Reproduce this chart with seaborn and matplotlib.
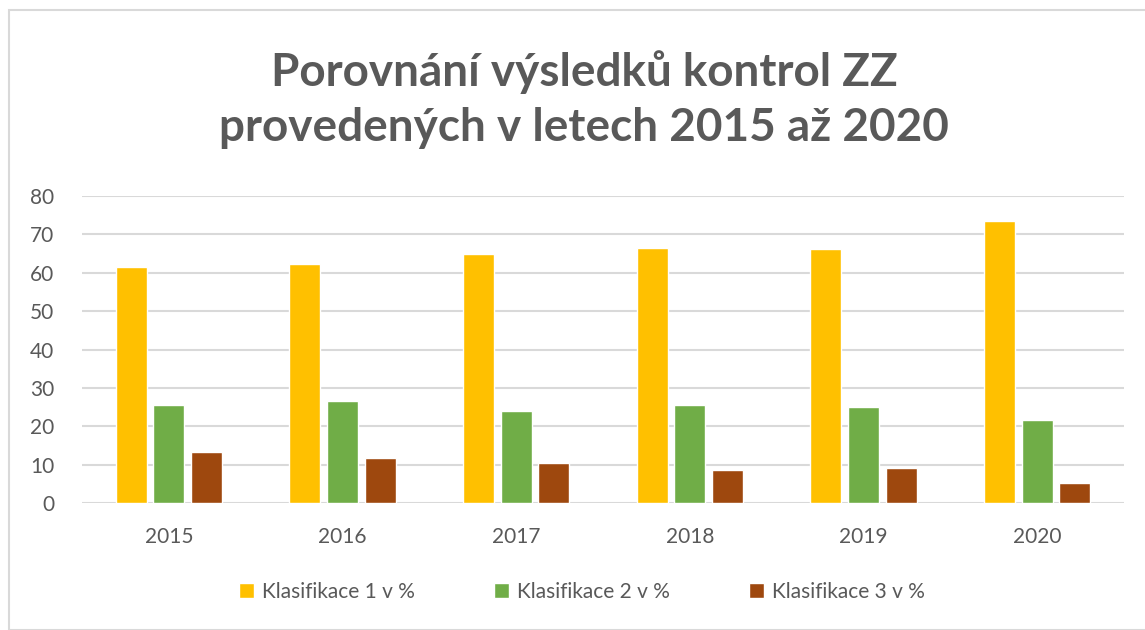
import pandas as pd
import matplotlib.pyplot as plt
import seaborn as sns
from matplotlib.patches import Rectangle

# data
roky = ["2015", "2016", "2017", "2018", "2019", "2020"]
klas1 = [61.6, 62.3, 64.9, 66.4, 66.1, 73.6]
klas2 = [25.5, 26.6, 24.1, 25.5, 25.1, 21.6]
klas3 = [13.2, 11.8, 10.3, 8.5, 9.2, 5.3]
serie = ["Klasifikace 1 v %", "Klasifikace 2 v %", "Klasifikace 3 v %"]
barvy = ["#FFC000", "#70AD47", "#9E480E"]

df = pd.DataFrame({"Rok": roky, serie[0]: klas1, serie[1]: klas2, serie[2]: klas3})
df = df.melt(id_vars="Rok", var_name="Serie", value_name="Hodnota")

sns.set_style("white")
plt.rcParams["font.family"] = ["Lato", "DejaVu Sans"]
text_col = "#595959"

fig = plt.figure(figsize=(11.45, 6.3), dpi=100)
ax = fig.add_axes([82 / 1145, 1 - 503 / 630, (1124 - 82) / 1145, (503 - 196) / 630])

sns.barplot(data=df, x="Rok", y="Hodnota", hue="Serie", palette=barvy,
            width=0.65, gap=0.18, ax=ax, legend=True, saturation=1)

ax.set_ylim(0, 80)
ax.set_yticks(range(0, 81, 10))
ax.yaxis.grid(True, color="#D9D9D9", linewidth=1.5)
ax.set_axisbelow(True)
for s in ax.spines.values():
    s.set_visible(False)
ax.set_xlabel("")
ax.set_ylabel("")
ax.tick_params(axis="both", length=0, labelsize=15, labelcolor=text_col)
ax.tick_params(axis="x", pad=17)
ax.tick_params(axis="y", pad=20)

ax.legend(loc="center", bbox_to_anchor=(0.48, -0.29), ncol=3, frameon=False,
          fontsize=15, labelcolor=text_col, handlelength=0.7, handleheight=0.7,
          columnspacing=3.8, handletextpad=0.4)

fig.text(0.51, 1 - 100 / 630, "Porovnání výsledků kontrol ZZ\nprovedených v letech 2015 až 2020",
         ha="center", va="center", fontsize=33, fontweight="bold", color=text_col,
         linespacing=1.38)

fig.patches.append(Rectangle((9 / 1145, 0), 1, 1 - 10 / 630, transform=fig.transFigure,
                             fill=False, edgecolor="#D9D9D9", linewidth=1.5))

fig.savefig("out.png", dpi=100)
